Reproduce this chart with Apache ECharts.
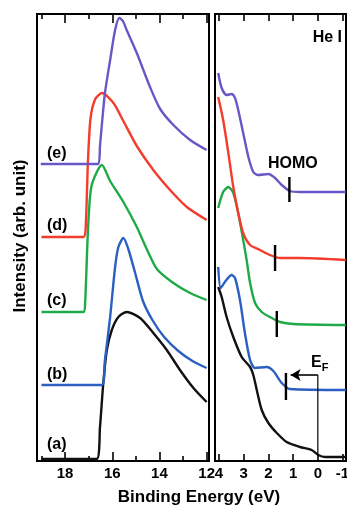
<!DOCTYPE html>
<html><head><meta charset="utf-8">
<script src="https://cdn.jsdelivr.net/npm/echarts@6/dist/echarts.min.js"></script>
<style>html,body{margin:0;padding:0;background:#fff}#c{width:347px;height:506px}</style>
</head><body><div id="c"></div>
<script>
// ---- tick labels ----
const leftMajorTicks = [12, 14, 16, 18];
const leftMinorTicks = [13, 15, 17, 19];
const rightTicks = [-1, 0, 1, 2, 3, 4];
const curveLabels = ['(a)', '(b)', '(c)', '(d)', '(e)'];

// ---- left panel (12-19 eV), [binding energy, intensity] ----
const leftA = [[19.0,2],[16.66,2],[16.52,34],[16.38,78],[16.23,111],[16.02,131],[15.74,144],[15.39,149],[14.82,143],[14.26,128],[13.69,111],[13.13,91],[12.56,73],[12.0,59]];
const leftB = [[19.0,76],[16.44,76],[16.31,101],[16.09,144],[15.88,194],[15.74,214],[15.53,223],[15.32,212],[15.03,188],[14.70,160],[14.30,141],[13.80,124],[13.20,110],[12.60,100],[12.0,93]];
const leftC = [[19.0,149],[17.22,149],[17.15,158],[17.03,230],[16.88,275],[16.44,296],[16.09,280],[15.53,259],[14.96,234],[14.54,212],[14.11,192],[13.41,178],[12.70,168],[12.0,161]];
const leftD = [[19.0,224],[17.22,224],[17.13,232],[17.03,300],[16.92,343],[16.72,362],[16.44,368],[15.95,358],[15.53,340],[14.96,315],[14.26,291],[13.55,271],[12.84,254],[12.0,241]];
const leftE = [[19.03,297],[16.59,297],[16.52,315],[16.45,334],[16.31,368],[16.09,401],[15.88,431],[15.70,443],[15.55,440],[15.39,431],[14.96,408],[14.40,374],[13.97,352],[13.41,336],[12.70,321],[12.0,311]];

// ---- right panel (valence region), [binding energy, intensity] ----
const rightA = [[4.03,174],[3.89,164],[3.69,144],[3.42,124],[3.08,104],[2.74,94],[2.61,86],[2.47,71],[2.27,51],[2.00,38],[1.66,28],[1.26,19],[0.72,14],[0.25,11],[-0.02,6],[-0.29,4],[-1.13,4]];
const rightB = [[4.03,194],[3.93,173],[3.76,179],[3.49,186],[3.35,183],[3.15,161],[2.95,128],[2.74,101],[2.54,93],[2.07,94],[1.80,90],[1.46,78],[1.13,72],[-1.13,71]];
const rightC = [[4.03,253],[3.83,269],[3.62,274],[3.42,268],[3.22,248],[3.02,221],[2.88,201],[2.74,178],[2.54,158],[2.27,149],[1.94,144],[1.53,139],[0.99,137],[-1.13,136]];
const rightD = [[4.03,364],[3.83,341],[3.62,308],[3.42,274],[3.22,248],[3.02,228],[2.74,216],[2.34,211],[1.94,206],[1.53,203],[0.72,203],[-1.13,201]];
const rightE = [[4.03,388],[3.89,373],[3.69,366],[3.49,367],[3.35,363],[3.22,351],[3.02,328],[2.81,304],[2.61,289],[2.41,286],[2.00,287],[1.73,283],[1.46,276],[1.13,270],[0.72,269],[-1.13,269]];

// ---- HOMO onset markers [energy, lowI, highI] ----
const homoB = [1.29, 61, 88];
const homoC = [1.66, 124, 150];
const homoD = [1.73, 190, 216];
const homoE = [1.15, 259, 284];
// ---- Fermi level ----
const fermiE = 0;
const fermiArrowTo = 1.1;
const fermiArrowI = 86;
const fermiLineBottom = 5;

const colors = ['#111111', '#2b5fc2', '#1faa48', '#f43c2c', '#6a56c6'];
const FONT = 'Liberation Sans, Arial, sans-serif';

const chart = echarts.init(document.getElementById('c'), null, {renderer: 'canvas'});

function xAx(grid, min, max, pos, ticks, len, labels) {
  return {
    type: 'value', gridIndex: grid, min: min, max: max, inverse: true, position: pos,
    axisLine: {show: false}, splitLine: {show: false},
    axisTick: {show: true, inside: true, length: len, customValues: ticks, lineStyle: {color: '#000', width: 1.6}},
    axisLabel: labels ? {show: true, customValues: ticks, color: '#000', fontSize: 15, fontWeight: 'bold', fontFamily: FONT, margin: 5, hideOverlap: false} : {show: false}
  };
}

function lineS(xi, yi, data, color) {
  return {type: 'line', xAxisIndex: xi, yAxisIndex: yi, data: data, showSymbol: false, symbol: 'none',
    smooth: 0.25, lineStyle: {color: color, width: 2.4}, silent: true, animation: false};
}
function homoS(h) {
  return {type: 'line', xAxisIndex: 4, yAxisIndex: 1, data: [[h[0], h[1]], [h[0], h[2]]], showSymbol: false, symbol: 'none',
    lineStyle: {color: '#000', width: 2.4}, silent: true, animation: false};
}

const series = [
  lineS(0, 0, leftA, colors[0]), lineS(0, 0, leftB, colors[1]), lineS(0, 0, leftC, colors[2]),
  lineS(0, 0, leftD, colors[3]), lineS(0, 0, leftE, colors[4]),
  lineS(4, 1, rightA, colors[0]), lineS(4, 1, rightB, colors[1]), lineS(4, 1, rightC, colors[2]),
  lineS(4, 1, rightD, colors[3]), lineS(4, 1, rightE, colors[4]),
  homoS(homoB), homoS(homoC), homoS(homoD), homoS(homoE),
  {type: 'line', xAxisIndex: 4, yAxisIndex: 1, data: [[fermiE, fermiArrowI], [fermiE, fermiLineBottom]], showSymbol: false, symbol: 'none',
    lineStyle: {color: '#000', width: 1.2}, silent: true, animation: false,
    markLine: {silent: true, animation: false, symbol: ['none', 'arrow'], symbolSize: [9, 10], label: {show: false},
      lineStyle: {color: '#000', width: 1.6, type: 'solid'},
      data: [[{coord: [fermiE, fermiArrowI]}, {coord: [fermiArrowTo, fermiArrowI]}]]}}
];

const txt = (t, x, y, size, extra) => Object.assign({type: 'text', x: x, y: y, silent: true,
  style: Object.assign({text: t, fill: '#000', fontSize: size, fontWeight: 'bold', fontFamily: FONT, verticalAlign: 'middle'}, extra || {})});

const labelY = [445, 375, 301, 226, 154];
const graphics = curveLabels.map((t, i) => txt(t, 47, labelY[i], 16));
graphics.push(txt('Binding Energy (eV)', 199, 497, 17, {align: 'center'}));
graphics.push(Object.assign(txt('Intensity (arb. unit)', 20, 236, 17, {align: 'center'}), {rotation: Math.PI / 2}));
graphics.push(txt('He I', 342, 38, 16, {align: 'right'}));
graphics.push(txt('HOMO', 268, 164, 16));
graphics.push({type: 'text', x: 311, y: 363, silent: true, style: {
  text: '{e|E}{f|F}', verticalAlign: 'middle', fill: '#000',
  rich: {e: {fontSize: 16, fontWeight: 'bold', fontFamily: FONT}, f: {fontSize: 11, fontWeight: 'bold', fontFamily: FONT, padding: [9, 0, 0, 0]}}}});

chart.setOption({
  animation: false,
  backgroundColor: '#fff',
  grid: [
    {left: 37, top: 14, width: 172, height: 447, show: true, borderColor: '#000', borderWidth: 2, backgroundColor: 'transparent', containLabel: false, outerBoundsMode: 'none'},
    {left: 215, top: 14, width: 131, height: 447, show: true, borderColor: '#000', borderWidth: 2, backgroundColor: 'transparent', containLabel: false, outerBoundsMode: 'none'}
  ],
  xAxis: [
    xAx(0, 11.9, 19.19, 'bottom', leftMajorTicks, 9, true),
    xAx(0, 11.9, 19.19, 'bottom', leftMinorTicks, 5, false),
    xAx(0, 11.9, 19.19, 'top', leftMajorTicks, 9, false),
    xAx(0, 11.9, 19.19, 'top', leftMinorTicks, 5, false),
    xAx(1, -1.14, 4.16, 'bottom', rightTicks, 7, true),
    xAx(1, -1.14, 4.16, 'top', rightTicks, 7, false)
  ],
  yAxis: [
    {type: 'value', gridIndex: 0, min: 0, max: 447, show: false},
    {type: 'value', gridIndex: 1, min: 0, max: 447, show: false}
  ],
  series: series,
  graphic: graphics
});
</script></body></html>
